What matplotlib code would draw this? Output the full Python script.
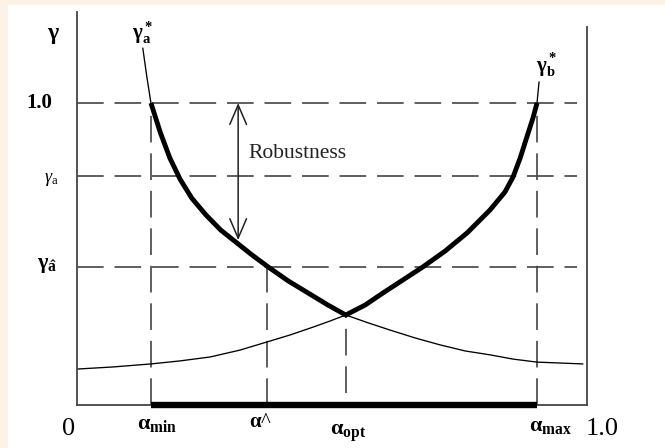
import numpy as np
import matplotlib
matplotlib.use("Agg")
import matplotlib.pyplot as plt
from matplotlib.patches import Rectangle

plt.rcParams["font.family"] = ["Liberation Serif", "DejaVu Serif"]
plt.rcParams["mathtext.fontset"] = "custom"
plt.rcParams["mathtext.rm"] = "Liberation Serif"
plt.rcParams["mathtext.it"] = "Liberation Serif:italic"
plt.rcParams["mathtext.bf"] = "Liberation Serif:bold"

# ----------------------------
# Values
# ----------------------------
# gamma_a* curve (falls with alpha)
alpha_a = [0.129, 0.137, 0.145, 0.163, 0.182, 0.202, 0.225, 0.253, 0.282,
           0.314, 0.343, 0.375, 0.414, 0.453, 0.492, 0.527, 0.571, 0.614,
           0.663, 0.712, 0.761, 0.810, 0.855, 0.902, 0.947, 0.992]
gamma_a = [1.182, 1.086, 1.000, 0.904, 0.818, 0.748, 0.685, 0.629, 0.579,
           0.536, 0.497, 0.457, 0.411, 0.371, 0.331, 0.298, 0.272, 0.248,
           0.222, 0.199, 0.179, 0.166, 0.152, 0.142, 0.139, 0.136]

# gamma_b* curve (rises with alpha)
alpha_b = [0.000, 0.071, 0.145, 0.202, 0.261, 0.320, 0.373, 0.418, 0.463,
           0.496, 0.527, 0.565, 0.600, 0.639, 0.678, 0.722, 0.765, 0.810,
           0.839, 0.855, 0.869, 0.882, 0.894, 0.902, 0.904, 0.906]
gamma_b = [0.119, 0.126, 0.136, 0.146, 0.159, 0.182, 0.209, 0.232, 0.258,
           0.278, 0.298, 0.331, 0.371, 0.414, 0.457, 0.510, 0.570, 0.646,
           0.705, 0.755, 0.818, 0.887, 0.950, 1.000, 1.036, 1.070]

a_min, a_hat, a_opt, a_max = 0.145, 0.373, 0.527, 0.902
g_one, g_a, g_hat = 1.0, 0.758, 0.457
arrow_x, arrow_bottom = 0.316, 0.546

x_labels = ["0", r"$\mathbf{\alpha_{min}}$", r"$\mathbf{\alpha}$^",
            r"$\mathbf{\alpha_{opt}}$", r"$\mathbf{\alpha_{max}}$", "1.0"]

# ----------------------------
# Figure
# ----------------------------
W, H = 665, 448
fig = plt.figure(figsize=(W / 100, H / 100), dpi=100, facecolor="#fdf2e6")
fig.patches.append(Rectangle((8 / W, 0), 1, 1 - 5 / H, transform=fig.transFigure,
                             facecolor="white", edgecolor="none", zorder=-5))

ax = fig.add_axes([77 / W, 43 / H, 510 / W, 393 / H])
ax.set_facecolor("none")
ax.set_xlim(0, 1)
ax.set_ylim(0, 393 / 302)
ax.set_xticks([])
ax.set_yticks([])
frame = "#444444"
for s in ["left", "right", "bottom"]:
    ax.spines[s].set_color(frame)
    ax.spines[s].set_linewidth(1.3)
ax.spines["top"].set_visible(False)
ax.spines["right"].set_bounds(0, 378 / 302)

dash = dict(color="#444444", lw=1.2, dashes=(16, 6.5))

# horizontal guide lines
for g in [g_one, g_a, g_hat]:
    ax.plot([0, 0.98], [g, g], **dash)

# vertical guide lines
ax.plot([a_min, a_min], [0, g_one], **dash)
ax.plot([a_hat, a_hat], [0, g_hat], **dash)
ax.plot([a_opt, a_opt], [0.04, gamma_a[alpha_a.index(a_opt)]], **dash)
ax.plot([a_max, a_max], [0, g_one], **dash)

# thin full curves
ax.plot(alpha_a, gamma_a, color="black", lw=0.95, solid_capstyle="round")
ax.plot(alpha_b, gamma_b, color="black", lw=0.95, solid_capstyle="round")

# bold envelope between alpha_min and alpha_max
xa, ya = np.array(alpha_a), np.array(gamma_a)
xb, yb = np.array(alpha_b), np.array(gamma_b)
ma = (xa >= a_min) & (xa <= a_opt)
mb = (xb > a_opt) & (xb <= a_max)
ax.plot(np.r_[xa[ma], xb[mb]], np.r_[ya[ma], yb[mb]], color="black", lw=3.5,
        solid_joinstyle="round", solid_capstyle="butt")

# heavy bar on the alpha axis
ax.plot([a_min, a_max], [0, 0], color="black", lw=4.6, solid_capstyle="butt",
        clip_on=False, zorder=4)

# robustness arrow
ax.annotate("", xy=(arrow_x, g_one), xytext=(arrow_x, arrow_bottom),
            arrowprops=dict(arrowstyle="<->,head_length=14,head_width=6",
                            mutation_scale=1, color="#222222", lw=1.1,
                            shrinkA=0, shrinkB=0))
ax.text(0.337, 0.834, "Robustness", fontsize=15.5, va="center", ha="left",
        color="#222222")

# curve names
ax.text(0.128, 1.232, r"$\mathbf{\gamma_a^*}$", fontsize=15, ha="center",
        va="center")
ax.text(0.92, 1.126, r"$\mathbf{\gamma_b^*}$", fontsize=15, ha="center",
        va="center")

# y labels
ax.text(-0.047, 1.225, r"$\mathbf{\gamma}$", fontsize=17, ha="center",
        va="center")
ax.text(-0.049, g_one, "1.0", fontsize=15, fontweight="bold", ha="right",
        va="center")
ax.text(-0.037, g_a - 0.01, r"$\gamma_\mathrm{a}$", fontsize=13, ha="right",
        va="center")
ax.text(-0.039, g_hat + 0.005, r"$\mathbf{\gamma_{\hat{a}}}$", fontsize=16,
        ha="right", va="center")

# x labels
x_pos = [-0.016, a_min + 0.012, a_hat - 0.014, a_opt + 0.004, a_max + 0.027, 1.03]
x_y = [-0.080, -0.066, -0.059, -0.092, -0.070, -0.080]
x_size = [19, 16, 15, 16, 16, 19]
for lab, xp, yp, fs in zip(x_labels, x_pos, x_y, x_size):
    ax.text(xp, yp, lab, fontsize=fs, ha="center", va="center")

fig.savefig("out.png", dpi=100, facecolor=fig.get_facecolor())
